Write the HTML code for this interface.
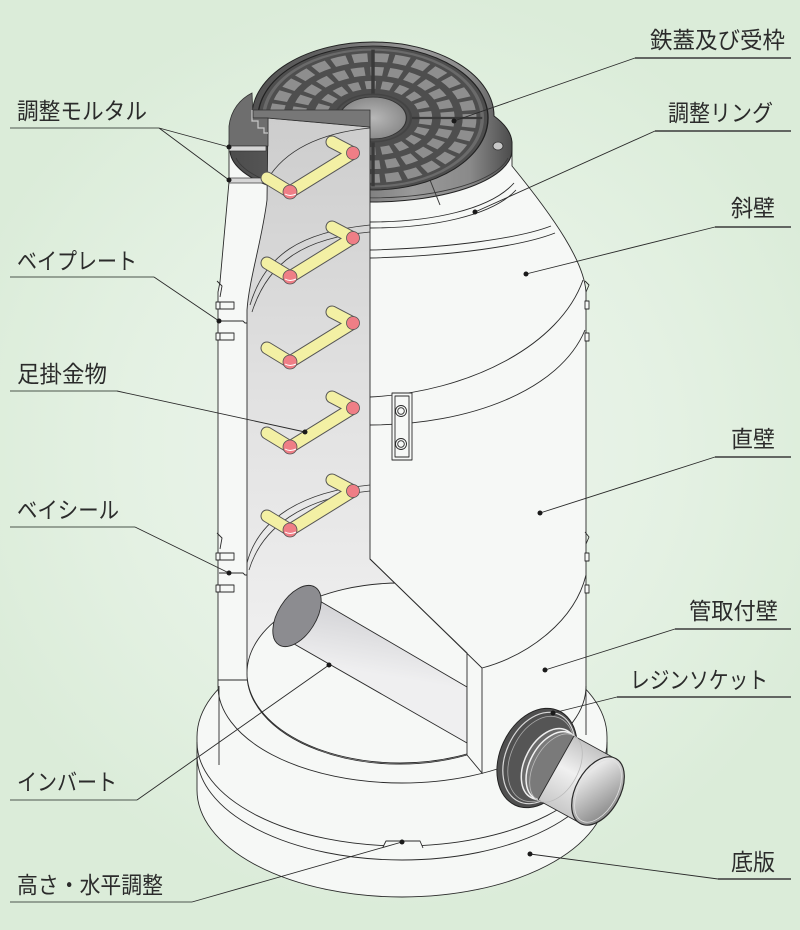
<!DOCTYPE html>
<html><head><meta charset="utf-8"><style>
html,body{margin:0;padding:0;background:#dcedda;}
svg{display:block;}
text{font-family:"Liberation Sans","Noto Sans CJK JP",sans-serif;font-size:23px;fill:#2b2b2b;}
</style></head><body>
<svg width="800" height="930" viewBox="0 0 800 930" xmlns="http://www.w3.org/2000/svg">
<defs>
<radialGradient id="bg" cx="400" cy="450" r="460" gradientUnits="userSpaceOnUse">
<stop offset="0" stop-color="#eef6ee"/><stop offset="0.6" stop-color="#e4f1e3"/><stop offset="1" stop-color="#dbecd9"/></radialGradient>
<linearGradient id="frameG" x1="229" y1="0" x2="512" y2="0" gradientUnits="userSpaceOnUse">
<stop offset="0" stop-color="#4c4c4c"/><stop offset="0.3" stop-color="#5f5f5f"/><stop offset="0.65" stop-color="#9a9a9a"/><stop offset="0.85" stop-color="#8a8a8a"/><stop offset="1" stop-color="#4c4c4c"/></linearGradient>
<linearGradient id="intG" x1="0" y1="118" x2="0" y2="700" gradientUnits="userSpaceOnUse">
<stop offset="0" stop-color="#cdcdcd"/><stop offset="0.5" stop-color="#e2e2e2"/><stop offset="1" stop-color="#f2f2f2"/></linearGradient>
<linearGradient id="pipeG" x1="300" y1="600" x2="290" y2="660" gradientUnits="userSpaceOnUse">
<stop offset="0" stop-color="#d4d4d7"/><stop offset="1" stop-color="#efeff0"/></linearGradient>
<linearGradient id="sockG" x1="574" y1="736" x2="538" y2="800" gradientUnits="userSpaceOnUse">
<stop offset="0" stop-color="#c4c4c4"/><stop offset="0.45" stop-color="#f0f0f0"/><stop offset="1" stop-color="#c8c8c8"/></linearGradient>
<linearGradient id="endG" x1="580" y1="780" x2="620" y2="800" gradientUnits="userSpaceOnUse">
<stop offset="0" stop-color="#e8e8e8"/><stop offset="1" stop-color="#8e8e8e"/></linearGradient>
<radialGradient id="hubG" cx="0" cy="0" r="30" gradientUnits="userSpaceOnUse">
<stop offset="0" stop-color="#b8b8b8"/><stop offset="1" stop-color="#8a8a8a"/></radialGradient>
<clipPath id="intClip"><path d="M268,118 L370,127 L370,559 L467,653 L467,755 A153,90 0 0 1 247,673 L247,310 C249,280 262,240 267,200 Z"/></clipPath>
</defs>

<rect width="800" height="930" fill="url(#bg)"/>

<g stroke="#2a2a2a" stroke-width="0.9" fill="#f6f8f6" stroke-linejoin="round">
<!-- base slab -->
<path d="M197,737 A205,108 0 0 1 607,737 L607,790 A205,107 0 0 1 197,790 Z"/>
<path fill="none" d="M197,742 A205,104 0 0 0 607,742"/>
<path fill="none" d="M197,755 A205,105 0 0 0 607,755"/>
<path fill="#f6f8f6" d="M383,847 L386,841 L420,841 L423,848"/>
<!-- wall -->
<path d="M229,146 L229,182 L220,282 L218,292 L218,686 A184,97 0 0 0 586,686 L586,292 C584,262 556,220 512,166 L512,146 Z"/>
<path fill="none" d="M219,686 L219,765 M586,686 L586,735"/>
<!-- joint curves front -->
<path fill="none" d="M583,280 C560,345 470,392 370,397"/>
<path fill="none" d="M585,330 C560,390 470,425 370,425"/>
<path fill="none" d="M586,575 C575,620 530,655 482,668"/>
<path fill="none" d="M370,222 C430,222 490,210 514,183"/>
<path fill="none" d="M370,228 C432,228 492,216 516,190"/>
<path fill="none" d="M370,250 C450,248 520,238 551,226"/>
<path fill="none" d="M370,258 C452,256 522,246 555,233"/>
<!-- right brackets -->
<path fill="none" d="M585,281 L589,285 L586,292"/>
<rect x="585" y="301" width="4" height="8"/><rect x="585" y="333" width="4" height="8"/>
<path fill="none" d="M585,532 L589,537 L586,544"/>
<rect x="585" y="553" width="4" height="8"/><rect x="585" y="585" width="4" height="8"/>
<!-- left brackets -->
<path fill="none" d="M217,281 L222,286 L220,297"/>
<rect x="216" y="302" width="4" height="7"/><rect x="220" y="302" width="14" height="7"/>
<rect x="216" y="333" width="4" height="7"/><rect x="220" y="333" width="14" height="7"/>
<path fill="none" d="M219,321 H243 L245,323 H247"/>
<path fill="none" d="M217,533 L222,538 L220,549"/>
<rect x="216" y="553" width="4" height="7"/><rect x="220" y="553" width="14" height="7"/>
<rect x="216" y="585" width="4" height="7"/><rect x="220" y="585" width="14" height="7"/>
<path fill="none" d="M219,573 H243 L245,575 H247"/>
<path fill="none" d="M218,680 H247"/>
<!-- front bracket -->
<rect x="392" y="393" width="20" height="67"/>
<rect x="395" y="396" width="14" height="61" fill="none"/>
<circle cx="401" cy="411" r="5.5"/><circle cx="401" cy="411" r="3.3"/>
<circle cx="401" cy="444" r="5.5"/><circle cx="401" cy="444" r="3.3"/>
</g>

<!-- frame -->
<path d="M252,116 A121,74 0 0 1 494,116 C505,124 511,132 512,142 L512,150 A141,52 0 0 1 230,150 L229,142 C231,130 240,122 252,116 Z" fill="url(#frameG)" stroke="#222" stroke-width="1"/>
<path d="M430,180 L440,205 M300,182 L296,200" stroke="#3a3a3a" stroke-width="1" fill="none"/>
<path d="M236,158 A138,48 0 0 0 508,158" fill="none" stroke="#3a3a3a" stroke-width="0.8"/>
<ellipse cx="498" cy="146" rx="5" ry="4" fill="#c8c8c8" stroke="#333" stroke-width="0.8"/>
<!-- cover -->
<g transform="translate(373,118) scale(1.15,0.72)">
<circle r="100" fill="#4e4e4e" stroke="#222" stroke-width="1.2"/>
<circle r="95" fill="none" stroke="#6a6a6a" stroke-width="3"/>
<circle r="84" fill="none" stroke="#8e8e8e" stroke-width="12" stroke-dasharray="13 5"/>
<circle r="65" fill="none" stroke="#8e8e8e" stroke-width="12" stroke-dasharray="11 5"/>
<circle r="46" fill="none" stroke="#8e8e8e" stroke-width="11" stroke-dasharray="9 5"/>
<path d="M0,-95V-33M0,33V95M-95,0H-33M33,0H95" stroke="#3a3a3a" stroke-width="3"/>
<circle r="33" fill="none" stroke="#444" stroke-width="2"/>
<circle r="29" fill="url(#hubG)" stroke="#333" stroke-width="1"/>
</g>

<!-- interior -->
<path d="M268,118 L370,127 L370,559 L467,653 L467,755 A153,90 0 0 1 247,673 L247,310 C249,280 262,240 267,200 Z" fill="url(#intG)" stroke="#2a2a2a" stroke-width="0.9"/>
<path d="M253,110 L370,110 L370,127 L268,118 L253,118 Z" fill="#777" stroke="#333" stroke-width="0.8"/>
<path d="M229,146 L229,126 C231,110 240,99 252,93 L253,118 L268,118 L268,146 Z" fill="#6e6e6e" stroke="#333" stroke-width="0.8"/>
<path d="M252,110 L252,121 L258,121 L258,128 L264,128 L264,133 L268,133" fill="none" stroke="#c8c8c8" stroke-width="1.2"/>
<!-- mortar bands -->
<rect x="229" y="146" width="37" height="5" fill="#d6d6d6" stroke="#333" stroke-width="0.7"/>
<rect x="229" y="178" width="37" height="5" fill="#d6d6d6" stroke="#333" stroke-width="0.7"/>
<!-- inner joint arcs -->
<g fill="none" stroke="#333" stroke-width="0.8">
<path d="M267,180 C285,150 320,133 370,128"/>
<path d="M250,305 C265,255 300,232 370,225"/>
<path d="M252,312 C268,262 304,238 370,232"/>
<path d="M247,563 C258,520 300,492 370,485"/>
<path d="M249,570 C262,527 303,498 370,491"/>
</g>
<!-- floor -->
<ellipse cx="400" cy="673" rx="153" ry="90" fill="#f6f8f6" stroke="#2a2a2a" stroke-width="0.9" clip-path="url(#intClip)"/>
<!-- invert pipe -->
<path d="M318,600 L467,687 L467,743 L275,633 Z" fill="url(#pipeG)" stroke="#2a2a2a" stroke-width="0.9"/>
<ellipse cx="297" cy="616" rx="19" ry="34" transform="rotate(32 297 616)" fill="#8c8c90" stroke="#2a2a2a" stroke-width="0.9"/>
<!-- cut face strip -->
<path d="M370,559 L482,668 L482,773 L467,755 L467,653" fill="#f6f8f6" stroke="#2a2a2a" stroke-width="0.9"/>

<!-- rungs -->
<g id="rungs">
<g stroke-linecap="round" stroke-linejoin="round" fill="none">
<path d="M332,142 L353,153 L290,192 L267,178 M332,227 L353,238 L290,277 L267,263 M332,312 L353,323 L290,362 L267,348 M332,397 L353,408 L290,447 L267,433 M332,480 L353,491 L290,530 L267,516" stroke="#555" stroke-width="13"/>
<path d="M332,142 L353,153 L290,192 L267,178 M332,227 L353,238 L290,277 L267,263 M332,312 L353,323 L290,362 L267,348 M332,397 L353,408 L290,447 L267,433 M332,480 L353,491 L290,530 L267,516" stroke="#f3f0a4" stroke-width="11"/>
</g>
<g fill="#ef7e86" stroke="#555" stroke-width="0.8">
<circle cx="353" cy="153" r="6.5"/><circle cx="290" cy="192" r="7"/>
<circle cx="353" cy="238" r="6.5"/><circle cx="290" cy="277" r="7"/>
<circle cx="353" cy="323" r="6.5"/><circle cx="290" cy="362" r="7"/>
<circle cx="353" cy="408" r="6.5"/><circle cx="290" cy="447" r="7"/>
<circle cx="353" cy="491" r="6.5"/><circle cx="290" cy="530" r="7"/>
</g>
<g fill="none" stroke="#fff" stroke-width="1">
<path d="M285,194 Q290,197 296,194"/><path d="M285,279 Q290,282 296,279"/><path d="M285,364 Q290,367 296,364"/><path d="M285,449 Q290,452 296,449"/><path d="M285,532 Q290,535 296,532"/>
</g>
</g>

<!-- socket -->
<ellipse cx="537" cy="758" rx="37" ry="52" transform="rotate(25 537 758)" fill="#4f4f4f" stroke="#222" stroke-width="1"/>
<ellipse cx="539" cy="758" rx="33" ry="48" transform="rotate(25 539 758)" fill="none" stroke="#d8d8d8" stroke-width="1.2"/>
<ellipse cx="541" cy="759" rx="30" ry="45" transform="rotate(25 541 759)" fill="#555" stroke="#aaa" stroke-width="0.8"/>
<ellipse cx="549" cy="764" rx="24" ry="38" transform="rotate(28 549 764)" fill="#6a6a6a" stroke="#eee" stroke-width="1.5"/>
<ellipse cx="553" cy="766" rx="23" ry="37" transform="rotate(29 553 766)" fill="#7a7a7a" stroke="#f2f2f2" stroke-width="1.5"/>
<path d="M574,736 L616,759 L580,823 L538,800 Z" fill="url(#sockG)" stroke="#2a2a2a" stroke-width="0.9"/>
<ellipse cx="556" cy="768" rx="22" ry="37" transform="rotate(29 556 768)" fill="none" stroke="#bbb" stroke-width="0.8"/>
<ellipse cx="598" cy="791" rx="22" ry="37" transform="rotate(29 598 791)" fill="url(#endG)" stroke="#2a2a2a" stroke-width="1.2"/>
<ellipse cx="598" cy="791" rx="19" ry="34" transform="rotate(29 598 791)" fill="none" stroke="#e0e0e0" stroke-width="0.8"/>

<!-- leader lines -->
<g fill="none" stroke-width="1.6">
<path stroke="#7d887d" d="M10,128 H159 M10,277 H154 M10,391 H117 M10,527 H135 M10,800 H137 M10,902 H192"/>
<path stroke="#3a3a3a" d="M635,58 H791 M655,131 H791 M715,227 H791 M715,457 H791 M675,629 H791 M617,697 H791 M718,879 H791"/>
</g>
<g fill="none" stroke="#2a2a2a" stroke-width="0.9">
<path d="M159,128 L229,147 M159,128 L229,180 M154,277 L219,321 M117,391 L305,432 M135,527 L229,573 M137,800 L329,665 M192,902 L402,842"/>
<path d="M635,58 L454,121 M655,131 L475,212 M715,227 L526,274 M715,457 L540,513 M675,629 L545,670 M617,697 L553,713 M718,879 L530,854"/>
</g>
<g fill="#1a1a1a">
<circle cx="229" cy="147" r="2.5"/><circle cx="229" cy="180" r="2.5"/><circle cx="219" cy="321" r="2.5"/><circle cx="305" cy="432" r="2.5"/><circle cx="229" cy="573" r="2.5"/><circle cx="329" cy="665" r="2.5"/><circle cx="402" cy="842" r="2.5"/>
<circle cx="454" cy="121" r="2.5"/><circle cx="475" cy="212" r="2.5"/><circle cx="526" cy="274" r="2.5"/><circle cx="540" cy="513" r="2.5"/><circle cx="545" cy="670" r="2.5"/><circle cx="553" cy="713" r="2.5"/><circle cx="530" cy="854" r="2.5"/>
</g>

<!-- labels -->
<text x="17" y="119" textLength="130" lengthAdjust="spacingAndGlyphs">調整モルタル</text>
<text x="17" y="269" textLength="120" lengthAdjust="spacingAndGlyphs">ベイプレート</text>
<text x="17" y="382" textLength="90" lengthAdjust="spacingAndGlyphs">足掛金物</text>
<text x="17" y="518" textLength="102" lengthAdjust="spacingAndGlyphs">ベイシール</text>
<text x="17" y="790" textLength="100" lengthAdjust="spacingAndGlyphs">インバート</text>
<text x="17" y="893" textLength="146" lengthAdjust="spacingAndGlyphs">高さ・水平調整</text>
<text x="650" y="48" textLength="135" lengthAdjust="spacingAndGlyphs">鉄蓋及び受枠</text>
<text x="668" y="121" textLength="105" lengthAdjust="spacingAndGlyphs">調整リング</text>
<text x="731" y="216" textLength="44" lengthAdjust="spacingAndGlyphs">斜壁</text>
<text x="731" y="447" textLength="44" lengthAdjust="spacingAndGlyphs">直壁</text>
<text x="689" y="619" textLength="89" lengthAdjust="spacingAndGlyphs">管取付壁</text>
<text x="630" y="688" textLength="138" lengthAdjust="spacingAndGlyphs">レジンソケット</text>
<text x="731" y="870" textLength="44" lengthAdjust="spacingAndGlyphs">底版</text>
</svg>
</body></html>
